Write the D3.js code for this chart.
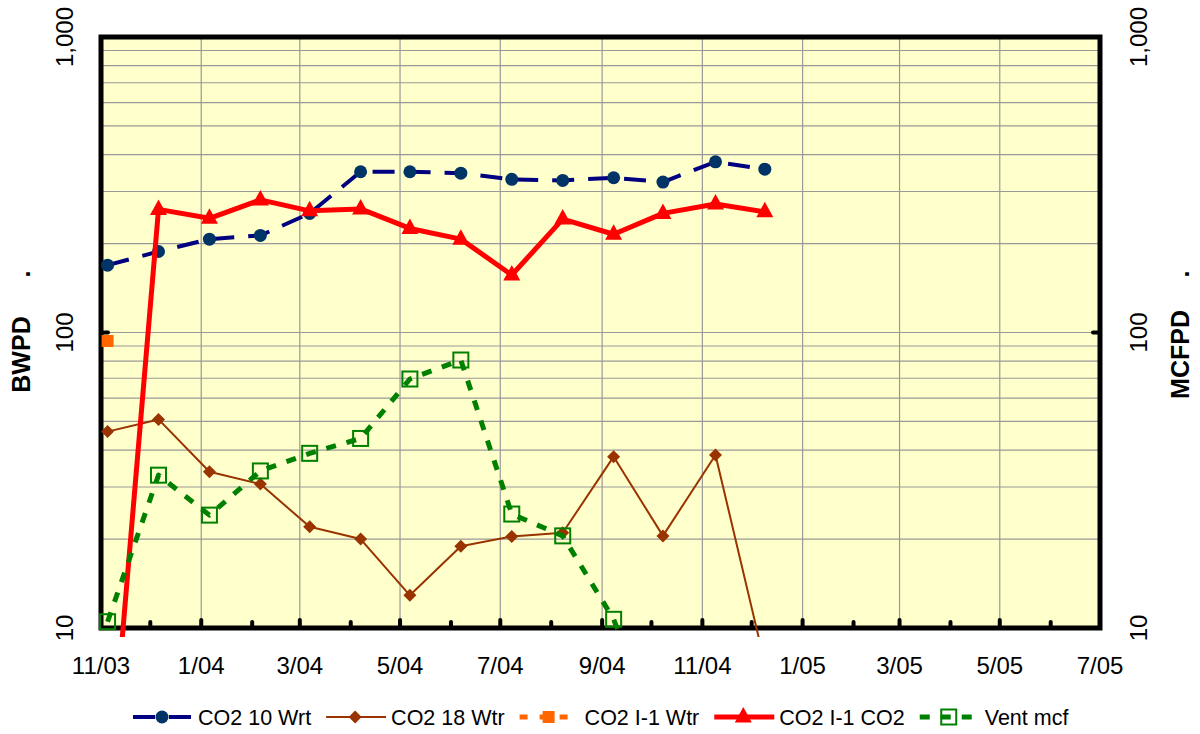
<!DOCTYPE html>
<html>
<head>
<meta charset="utf-8">
<script src="https://cdn.jsdelivr.net/npm/d3@7"></script>
<style>
  body { margin: 0; background: #fff; }
  svg { display: block; font-family: "Liberation Sans", Arial, sans-serif; }
</style>
</head>
<body>
<div id="chart"></div>
<script>
// Monthly well test readings, log scale on both axes
const sampleDates = ["2003-11-05", "2003-12-06", "2004-01-06", "2004-02-06", "2004-03-07",
  "2004-04-07", "2004-05-07", "2004-06-07", "2004-07-08", "2004-08-08", "2004-09-08",
  "2004-10-08", "2004-11-09", "2004-12-09"];
const co2_10_wrt = [169, 188, 207, 213, 253, 350, 350, 346, 330, 327, 334, 323, 378, 357];
const co2_18_wtr = [46.2, 50.8, 33.8, 30.7, 22.0, 20.0, 12.9, 18.9, 20.4, 21.0, 38.0, 20.5, 38.5, 7.6];
const co2_i1_wtr = [93.6];
const co2_i1_co2 = [2.4, 261, 243.5, 281, 258, 262, 225, 207, 156.5, 242, 215, 253, 272, 256];
const vent_mcf = [10.5, 32.9, 24.1, 34.0, 39.0, 43.8, 69.6, 80.7, 24.3, 20.5, 10.7, 4.0, 5.0, 9.4];
const seriesNames = ["CO2 10 Wrt", "CO2 18 Wtr", "CO2 I-1 Wtr", "CO2 I-1 CO2", "Vent mcf"];
const yTickValues = [10, 100, 1000];

const width = 1200, height = 734;
const plotL = 101, plotR = 1100, plotT = 37, plotB = 628;

const parse = d3.timeParse("%Y-%m-%d");
const dates = sampleDates.map(parse);

const svg = d3.select("#chart").append("svg")
  .attr("width", width).attr("height", height);

const x = d3.scaleTime()
  .domain([new Date(2003, 10, 1), new Date(2005, 6, 1)])
  .range([plotL, plotR]);
const y = d3.scaleLog().domain([10, 1000]).range([plotB, plotT]);

// plot background
svg.append("rect")
  .attr("x", plotL).attr("y", plotT)
  .attr("width", plotR - plotL).attr("height", plotB - plotT)
  .attr("fill", "#FFFFCC");

// horizontal grid (log minor lines)
const gridVals = [];
[10, 100].forEach(dec => {
  for (let k = 1; k <= 9; k++) {
    const v = k * dec;
    if (v > 10 && v < 1000) gridVals.push(v);
  }
});
svg.append("g").selectAll("line").data(gridVals).join("line")
  .attr("x1", plotL).attr("x2", plotR)
  .attr("y1", d => y(d)).attr("y2", d => y(d))
  .attr("stroke", "#999").attr("stroke-width", 1.2);

// vertical grid every two months
const majorMonths = x.ticks(d3.timeMonth.every(2));
svg.append("g").selectAll("line").data(majorMonths.slice(1)).join("line")
  .attr("x1", d => x(d)).attr("x2", d => x(d))
  .attr("y1", plotT).attr("y2", plotB)
  .attr("stroke", "#999").attr("stroke-width", 1.2);

// frame
svg.append("rect")
  .attr("x", plotL).attr("y", plotT)
  .attr("width", plotR - plotL).attr("height", plotB - plotT)
  .attr("fill", "none").attr("stroke", "#000").attr("stroke-width", 5);

// month ticks on the bottom axis
const allMonths = x.ticks(d3.timeMonth.every(1));
svg.append("g").selectAll("line").data(allMonths).join("line")
  .attr("x1", d => x(d)).attr("x2", d => x(d))
  .attr("y1", plotB)
  .attr("y2", d => d.getMonth() % 2 === 0 ? plotB - 8 : plotB - 6)
  .attr("stroke", "#000").attr("stroke-width", 4).attr("stroke-linecap", "round");

// ticks at 100 on both value axes
svg.append("line").attr("x1", plotL).attr("x2", plotL + 7)
  .attr("y1", y(100)).attr("y2", y(100))
  .attr("stroke", "#000").attr("stroke-width", 4).attr("stroke-linecap", "round");
svg.append("line").attr("x1", plotR - 7).attr("x2", plotR)
  .attr("y1", y(100)).attr("y2", y(100))
  .attr("stroke", "#000").attr("stroke-width", 4).attr("stroke-linecap", "round");

// bottom labels
const fmtMonth = d => `${d.getMonth() + 1}/${d3.timeFormat("%y")(d)}`;
svg.append("g").selectAll("text").data(majorMonths).join("text")
  .attr("x", d => x(d)).attr("y", 674)
  .attr("text-anchor", "middle").attr("font-size", 24)
  .text(fmtMonth);

// value labels, rotated
const fmtVal = d3.format(",");
[72.5, 1147].forEach(lx => {
  svg.append("g").selectAll("text").data(yTickValues).join("text")
    .attr("transform", d => `translate(${lx},${y(d)}) rotate(-90)`)
    .attr("text-anchor", "middle").attr("font-size", 24)
    .text(fmtVal);
});

// axis titles
function axisTitle(tx, label) {
  svg.append("text")
    .attr("transform", `translate(${tx},354.5) rotate(-90)`)
    .attr("text-anchor", "middle").attr("font-size", 25).attr("font-weight", "bold")
    .text(label);
  svg.append("text")
    .attr("transform", `translate(${tx},274) rotate(-90)`)
    .attr("text-anchor", "middle").attr("font-size", 25).attr("font-weight", "bold")
    .text(".");
}
axisTitle(30, "BWPD");
axisTitle(1189, "MCFPD");

// series
svg.append("clipPath").attr("id", "plotclip")
  .append("rect").attr("x", plotL).attr("y", plotT)
  .attr("width", plotR - plotL).attr("height", plotB - plotT + 9);

const series = [
  { name: seriesNames[0], values: co2_10_wrt, color: "#000080", mcolor: "#003366", width: 4, dash: "22,14", marker: "circle" },
  { name: seriesNames[1], values: co2_18_wtr, color: "#993300", mcolor: "#993300", width: 2, dash: null, marker: "diamond" },
  { name: seriesNames[2], values: co2_i1_wtr, color: "#FF6600", mcolor: "#FF6600", width: 5, dash: "8,12", marker: "square" },
  { name: seriesNames[3], values: co2_i1_co2, color: "#FF0000", mcolor: "#FF0000", width: 5, dash: null, marker: "triangle" },
  { name: seriesNames[4], values: vent_mcf, color: "#008000", mcolor: "#008000", width: 5, dash: "10,11", marker: "open" }
];

function drawMarker(g, type, color) {
  if (type === "circle") {
    g.append("circle").attr("r", 6.5).attr("fill", color);
  } else if (type === "diamond") {
    g.append("path").attr("d", "M0,-6.5L6.5,0L0,6.5L-6.5,0Z").attr("fill", color);
  } else if (type === "square") {
    g.append("rect").attr("x", -6).attr("y", -6).attr("width", 12).attr("height", 12).attr("fill", color);
  } else if (type === "triangle") {
    g.append("path").attr("d", "M0,-10L8.5,5.5L-8.5,5.5Z").attr("fill", color);
  } else if (type === "open") {
    g.append("rect").attr("x", -7.5).attr("y", -7.5).attr("width", 15).attr("height", 15)
      .attr("fill", "none").attr("stroke", color).attr("stroke-width", 2);
  }
}

const line = d3.line().x(d => x(d[0])).y(d => y(d[1]));
const seriesG = svg.append("g");

series.forEach(s => {
  const pts = s.values.map((v, i) => [dates[i], v]);
  const path = seriesG.append("path")
    .attr("clip-path", "url(#plotclip)")
    .attr("d", line(pts))
    .attr("fill", "none")
    .attr("stroke", s.color)
    .attr("stroke-width", s.width)
    .attr("stroke-linejoin", "round");
  if (s.dash) path.attr("stroke-dasharray", s.dash);

  pts.filter(p => p[1] >= 10 && p[1] <= 1000).forEach(p => {
    const g = seriesG.append("g").attr("transform", `translate(${x(p[0])},${y(p[1])})`);
    drawMarker(g, s.marker, s.mcolor);
  });
});

// legend
const legend = svg.append("g");
let lx = 133;
const ly = 717;
series.forEach(s => {
  const g = legend.append("g").attr("transform", `translate(${lx},${ly})`);
  const l = g.append("line").attr("x1", 0).attr("x2", 60).attr("y1", 0).attr("y2", 0)
    .attr("stroke", s.color).attr("stroke-width", s.width);
  if (s.dash) l.attr("stroke-dasharray", s.dash);
  const m = g.append("g").attr("transform", "translate(29,0)");
  drawMarker(m, s.marker, s.mcolor);
  const t = g.append("text").attr("x", 65).attr("y", 7.7)
    .attr("font-size", 21.5).text(s.name);
  lx += 65 + t.node().getComputedTextLength() + 15;
});
</script>
</body>
</html>
